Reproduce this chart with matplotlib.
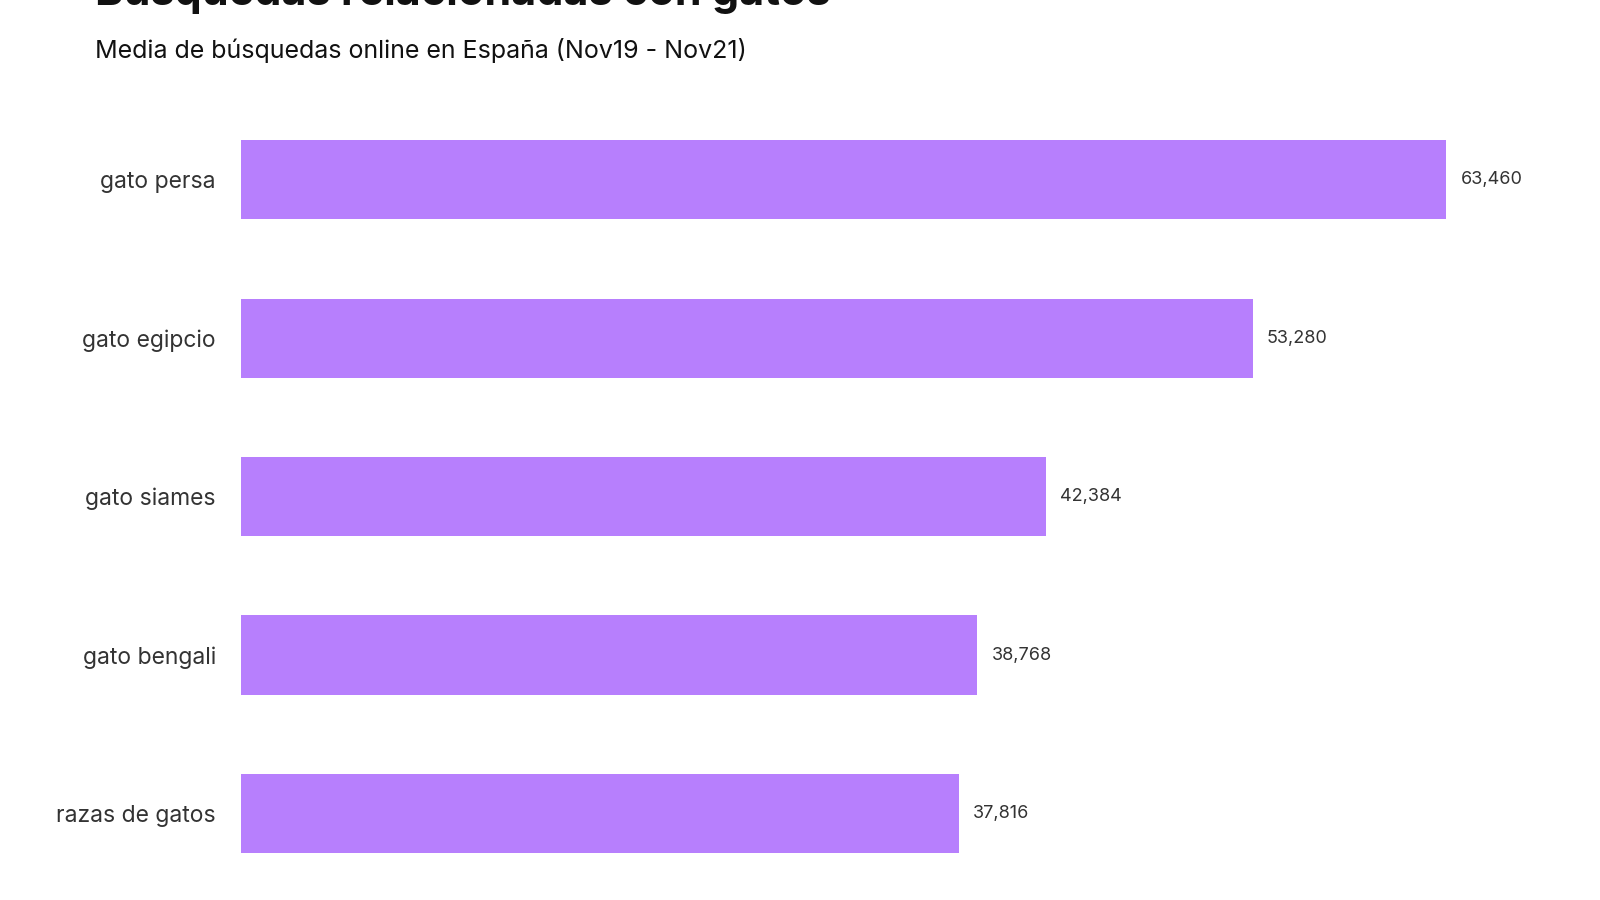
import matplotlib.pyplot as plt

categories = ["gato persa", "gato egipcio", "gato siames", "gato bengali", "razas de gatos"]
values = [63460, 53280, 42384, 38768, 37816]

plt.rcParams["font.family"] = ["Inter", "DejaVu Sans"]

fig = plt.figure(figsize=(16, 9), dpi=100)
ax = fig.add_axes([0.1505, 0.0082, 0.831, 0.88])

ypos = list(range(len(categories)))
ax.barh(ypos, values, height=0.5, color="#b77ffd")
for y, v in zip(ypos, values):
    ax.text(v + 750, y, f"{v:,}", va="center", ha="left", fontsize=13, color="#333333")

ax.set_yticks(ypos)
ax.set_yticklabels(categories, fontsize=16.5, color="#333333")
ax.set_ylim(len(categories) - 0.5, -0.5)
ax.set_xlim(0, 70000)
ax.tick_params(axis="y", length=0, pad=18)
ax.set_xticks([])
for s in ax.spines.values():
    s.set_visible(False)

fig.text(0.0594, 0.944, "Media de búsquedas online en España (Nov19 - Nov21)",
         fontsize=18, color="#111111", va="center")
fig.text(0.0594, 1.008, "Búsquedas relacionadas con gatos", fontsize=31,
         fontweight="bold", color="#111111", va="center")

fig.savefig("out.png", dpi=100)
